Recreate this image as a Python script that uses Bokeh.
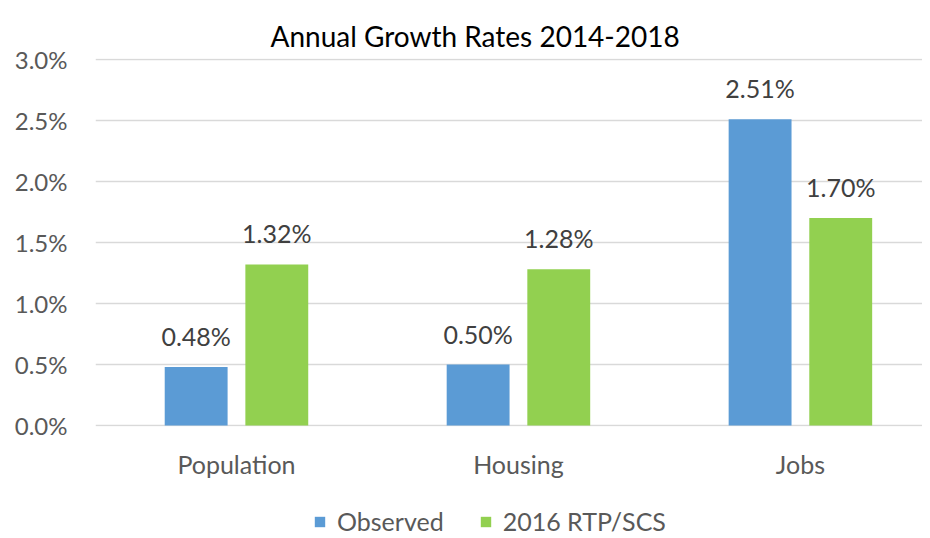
from bokeh.plotting import figure
from bokeh.models import ColumnDataSource, Range1d, FixedTicker, Legend, LegendItem, LabelSet
from bokeh.core.properties import value
from bokeh.transform import dodge
from bokeh.layouts import column
from bokeh.embed import file_html
from bokeh.resources import INLINE

categories = ["Population", "Housing", "Jobs"]
observed = [0.48, 0.50, 2.51]
rtp = [1.32, 1.28, 1.70]
series_names = ["Observed", "2016 RTP/SCS"]
y_ticks = [0.0, 0.5, 1.0, 1.5, 2.0, 2.5, 3.0]

BLUE = "#5B9BD5"
GREEN = "#92D050"
FONT = "Lato"

xs = list(range(len(categories)))
src = ColumnDataSource(dict(
    x=xs,
    obs=observed,
    rtp=rtp,
    obs_lbl=[f"{v:.2f}%" for v in observed],
    rtp_lbl=[f"{v:.2f}%" for v in rtp],
))

fig = figure(width=922, height=490, output_backend="svg", toolbar_location=None,
             x_range=Range1d(-0.5, 2.433), y_range=Range1d(-0.008, 3.008),
             min_border_left=95, min_border_right=0, min_border_top=58, min_border_bottom=64,
             title="Annual Growth Rates 2014-2018")
fig.outline_line_color = None
fig.background_fill_color = "white"
fig.border_fill_color = "white"

fig.title.align = "left"
fig.title.offset = 175
fig.title.vertical_align = "top"
fig.title.text_font = FONT
fig.title.text_font_size = "28px"
fig.title.text_font_style = "normal"
fig.title.text_color = "#000000"
fig.title.standoff = 8

off = 0.143
w = 0.223
fig.vbar(x=dodge("x", -off), top="obs", width=w, source=src, fill_color=BLUE, line_color=None)
fig.vbar(x=dodge("x", off), top="rtp", width=w, source=src, fill_color=GREEN, line_color=None)

for col, lbl, d in (("obs", "obs_lbl", -off), ("rtp", "rtp_lbl", off)):
    ls = LabelSet(x=dodge("x", d), y=col, text=lbl, source=src, text_align="center",
                  text_baseline="alphabetic", y_offset=21, text_font=value(FONT),
                  text_font_size=value("25px"), text_color="#404040")
    fig.add_layout(ls)

# axes
fig.yaxis.ticker = FixedTicker(ticks=y_ticks)
fig.yaxis.major_label_overrides = {t: f"{t:.1f}%" for t in y_ticks}
fig.yaxis.axis_line_color = None
fig.yaxis.major_tick_line_color = None
fig.yaxis.minor_tick_line_color = None
fig.yaxis.major_tick_out = 0
fig.yaxis.major_tick_in = 0
fig.yaxis.major_label_standoff = 28
fig.yaxis.major_label_text_font = FONT
fig.yaxis.major_label_text_font_size = "24px"
fig.yaxis.major_label_text_color = "#595959"

fig.xaxis.ticker = FixedTicker(ticks=xs)
fig.xaxis.major_label_overrides = {i: c for i, c in zip(xs, categories)}
fig.xaxis.axis_line_color = None
fig.xaxis.major_tick_line_color = None
fig.xaxis.minor_tick_line_color = None
fig.xaxis.major_tick_out = 0
fig.xaxis.major_tick_in = 0
fig.xaxis.major_label_standoff = 22
fig.xaxis.major_label_text_font = FONT
fig.xaxis.major_label_text_font_size = "25px"
fig.xaxis.major_label_text_color = "#595959"

fig.xgrid.grid_line_color = None
fig.ygrid.ticker = FixedTicker(ticks=y_ticks)
fig.ygrid.grid_line_color = "#D9D9D9"
fig.ygrid.grid_line_width = 1.3

# legend strip below the chart (its bars fall outside its y range, only the legend shows)
leg_fig = figure(width=922, height=46, output_backend="svg", toolbar_location=None,
                 x_range=Range1d(-0.5, 2.433), y_range=Range1d(100, 101),
                 x_axis_type=None, y_axis_type=None,
                 min_border_left=0, min_border_right=0, min_border_top=0, min_border_bottom=0)
leg_fig.outline_line_color = None
leg_fig.grid.visible = False
lr1 = leg_fig.vbar(x=dodge("x", -off), top="obs", width=w, source=src, fill_color=BLUE, line_color=None)
lr2 = leg_fig.vbar(x=dodge("x", off), top="rtp", width=w, source=src, fill_color=GREEN, line_color=None)

legend = Legend(items=[LegendItem(label=series_names[0], renderers=[lr1]),
                       LegendItem(label=series_names[1], renderers=[lr2])],
                orientation="horizontal", location=(218, 0))
legend.border_line_color = None
legend.background_fill_alpha = 0
legend.padding = 0
legend.margin = 0
legend.spacing = 35
legend.label_standoff = 11
legend.glyph_width = 13
legend.glyph_height = 13
legend.label_text_font = FONT
legend.label_text_font_size = "25px"
legend.label_text_color = "#595959"
leg_fig.add_layout(legend, "center")

p = column(fig, leg_fig, spacing=0)

open("out.html", "w").write(file_html(p, INLINE))
